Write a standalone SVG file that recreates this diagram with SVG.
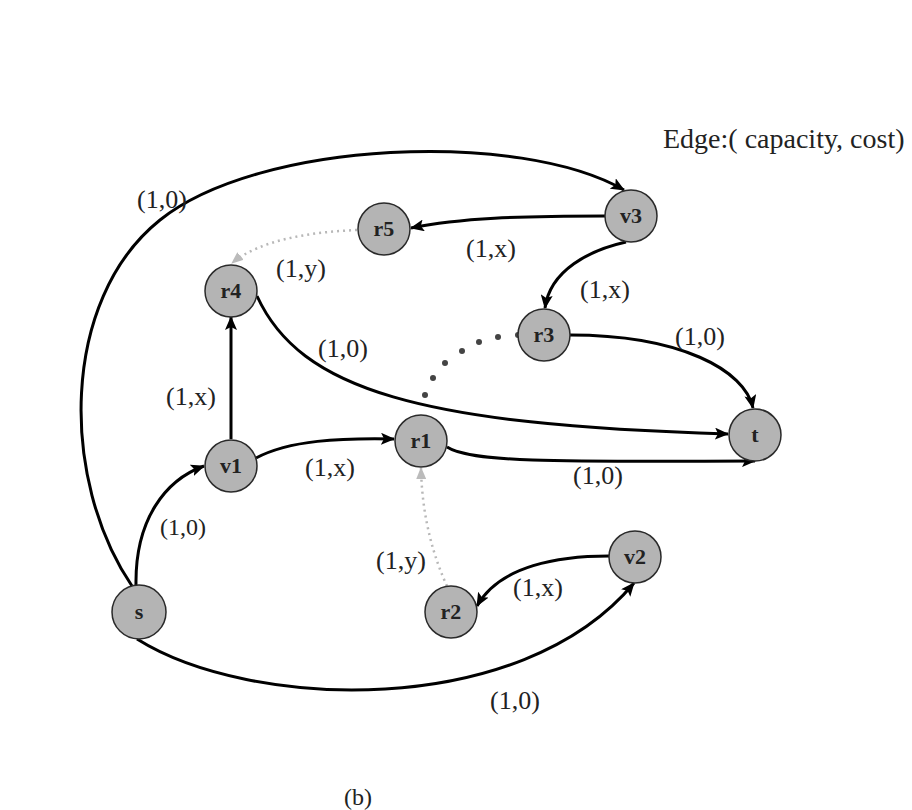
<svg xmlns="http://www.w3.org/2000/svg" width="912" height="810" viewBox="0 0 912 810">
<style>
.node circle{fill:#b4b4b4;stroke:#2a2a2a;stroke-width:1.5}
.node text{font-family:"Liberation Serif",serif;font-weight:bold;font-size:22px;fill:#222;text-anchor:middle}
.e{fill:none;stroke:#000;stroke-width:3}
.d{fill:none;stroke:#b8b8b8;stroke-width:2.5;stroke-dasharray:2 4}
.lbl{font-family:"Liberation Serif",serif;font-size:26px;fill:#222}
</style>
<defs>
<marker id="a" markerUnits="userSpaceOnUse" markerWidth="14" markerHeight="12" refX="13" refY="6" orient="auto"><path d="M0,0 L14,6 L0,12 L3,6 Z" fill="#000"/></marker>
<marker id="g" markerUnits="userSpaceOnUse" markerWidth="12" markerHeight="10" refX="11" refY="5" orient="auto"><path d="M0,0 L12,5 L0,10 Z" fill="#bbb"/></marker>
</defs>
<rect width="912" height="810" fill="#fff"/>
<text class="lbl" x="663" y="148" style="font-size:28px">Edge:( capacity, cost)</text>
<g id="connectors">
<path class="e" marker-end="url(#a)" d="M132 586 C60 480 60 300 160 220 C260 140 520 130 624 190"/>
<path class="e" marker-end="url(#a)" d="M605 216 C520 216 460 218 411 228"/>
<path class="d" marker-end="url(#g)" d="M357 230 C310 232 260 240 232 263"/>
<path class="e" marker-end="url(#a)" d="M626 242 C590 250 550 270 545 308"/>
<path class="e" marker-end="url(#a)" d="M570 335 C680 335 745 370 753 408"/>
<path class="e" marker-end="url(#a)" d="M257 296 C300 390 420 425 728 434"/>
<path class="e" marker-end="url(#a)" d="M231 439 L231 317"/>
<path class="e" marker-end="url(#a)" d="M256 458 C290 440 340 438 394 439"/>
<path class="e" marker-end="url(#a)" d="M447 447 C470 462 550 462 755 461"/>
<path class="d" marker-end="url(#g)" d="M447 586 C435 560 422 520 421 468"/>
<path class="e" marker-end="url(#a)" d="M609 556 C560 556 500 565 477 606"/>
<path class="e" marker-end="url(#a)" d="M137 639 C250 710 520 720 634 583"/>
<path class="e" marker-end="url(#a)" d="M136 585 C135 520 165 480 204 466"/>
<g fill="#444">
<circle cx="518" cy="335" r="3"/><circle cx="498" cy="337" r="3"/><circle cx="479" cy="342" r="3"/><circle cx="462" cy="351" r="3"/><circle cx="445" cy="363" r="3"/><circle cx="433" cy="378" r="3"/><circle cx="425" cy="395" r="3"/>
</g>
</g>
<g id="labels">
<text class="lbl" x="137" y="208">(1,0)</text>
<text class="lbl" x="466" y="257">(1,x)</text>
<text class="lbl" x="276" y="277">(1,y)</text>
<text class="lbl" x="580" y="298">(1,x)</text>
<text class="lbl" x="675" y="345">(1,0)</text>
<text class="lbl" x="318" y="357">(1,0)</text>
<text class="lbl" x="166" y="405">(1,x)</text>
<text class="lbl" x="305" y="476">(1,x)</text>
<text class="lbl" x="573" y="484">(1,0)</text>
<text class="lbl" x="160" y="535" style="font-size:24px">(1,0)</text>
<text class="lbl" x="376" y="569">(1,y)</text>
<text class="lbl" x="513" y="596">(1,x)</text>
<text class="lbl" x="490" y="709">(1,0)</text>
<text class="lbl" x="344" y="805" style="font-size:24px">(b)</text>
</g>
<g id="s" class="node"><circle cx="139" cy="612" r="27"/><text x="139" y="619">s</text></g>
<g id="v1" class="node"><circle cx="231" cy="466" r="26"/><text x="231" y="473">v1</text></g>
<g id="r4" class="node"><circle cx="231" cy="291" r="26"/><text x="231" y="298">r4</text></g>
<g id="r5" class="node"><circle cx="384" cy="229" r="26"/><text x="384" y="236">r5</text></g>
<g id="v3" class="node"><circle cx="631" cy="216" r="26"/><text x="631" y="223">v3</text></g>
<g id="r3" class="node"><circle cx="544" cy="335" r="26"/><text x="544" y="342">r3</text></g>
<g id="r1" class="node"><circle cx="421" cy="441" r="26"/><text x="421" y="448">r1</text></g>
<g id="t" class="node"><circle cx="755" cy="435" r="26"/><text x="755" y="442">t</text></g>
<g id="r2" class="node"><circle cx="451" cy="612" r="26"/><text x="451" y="619">r2</text></g>
<g id="v2" class="node"><circle cx="635" cy="557" r="26"/><text x="635" y="564">v2</text></g>
</svg>
